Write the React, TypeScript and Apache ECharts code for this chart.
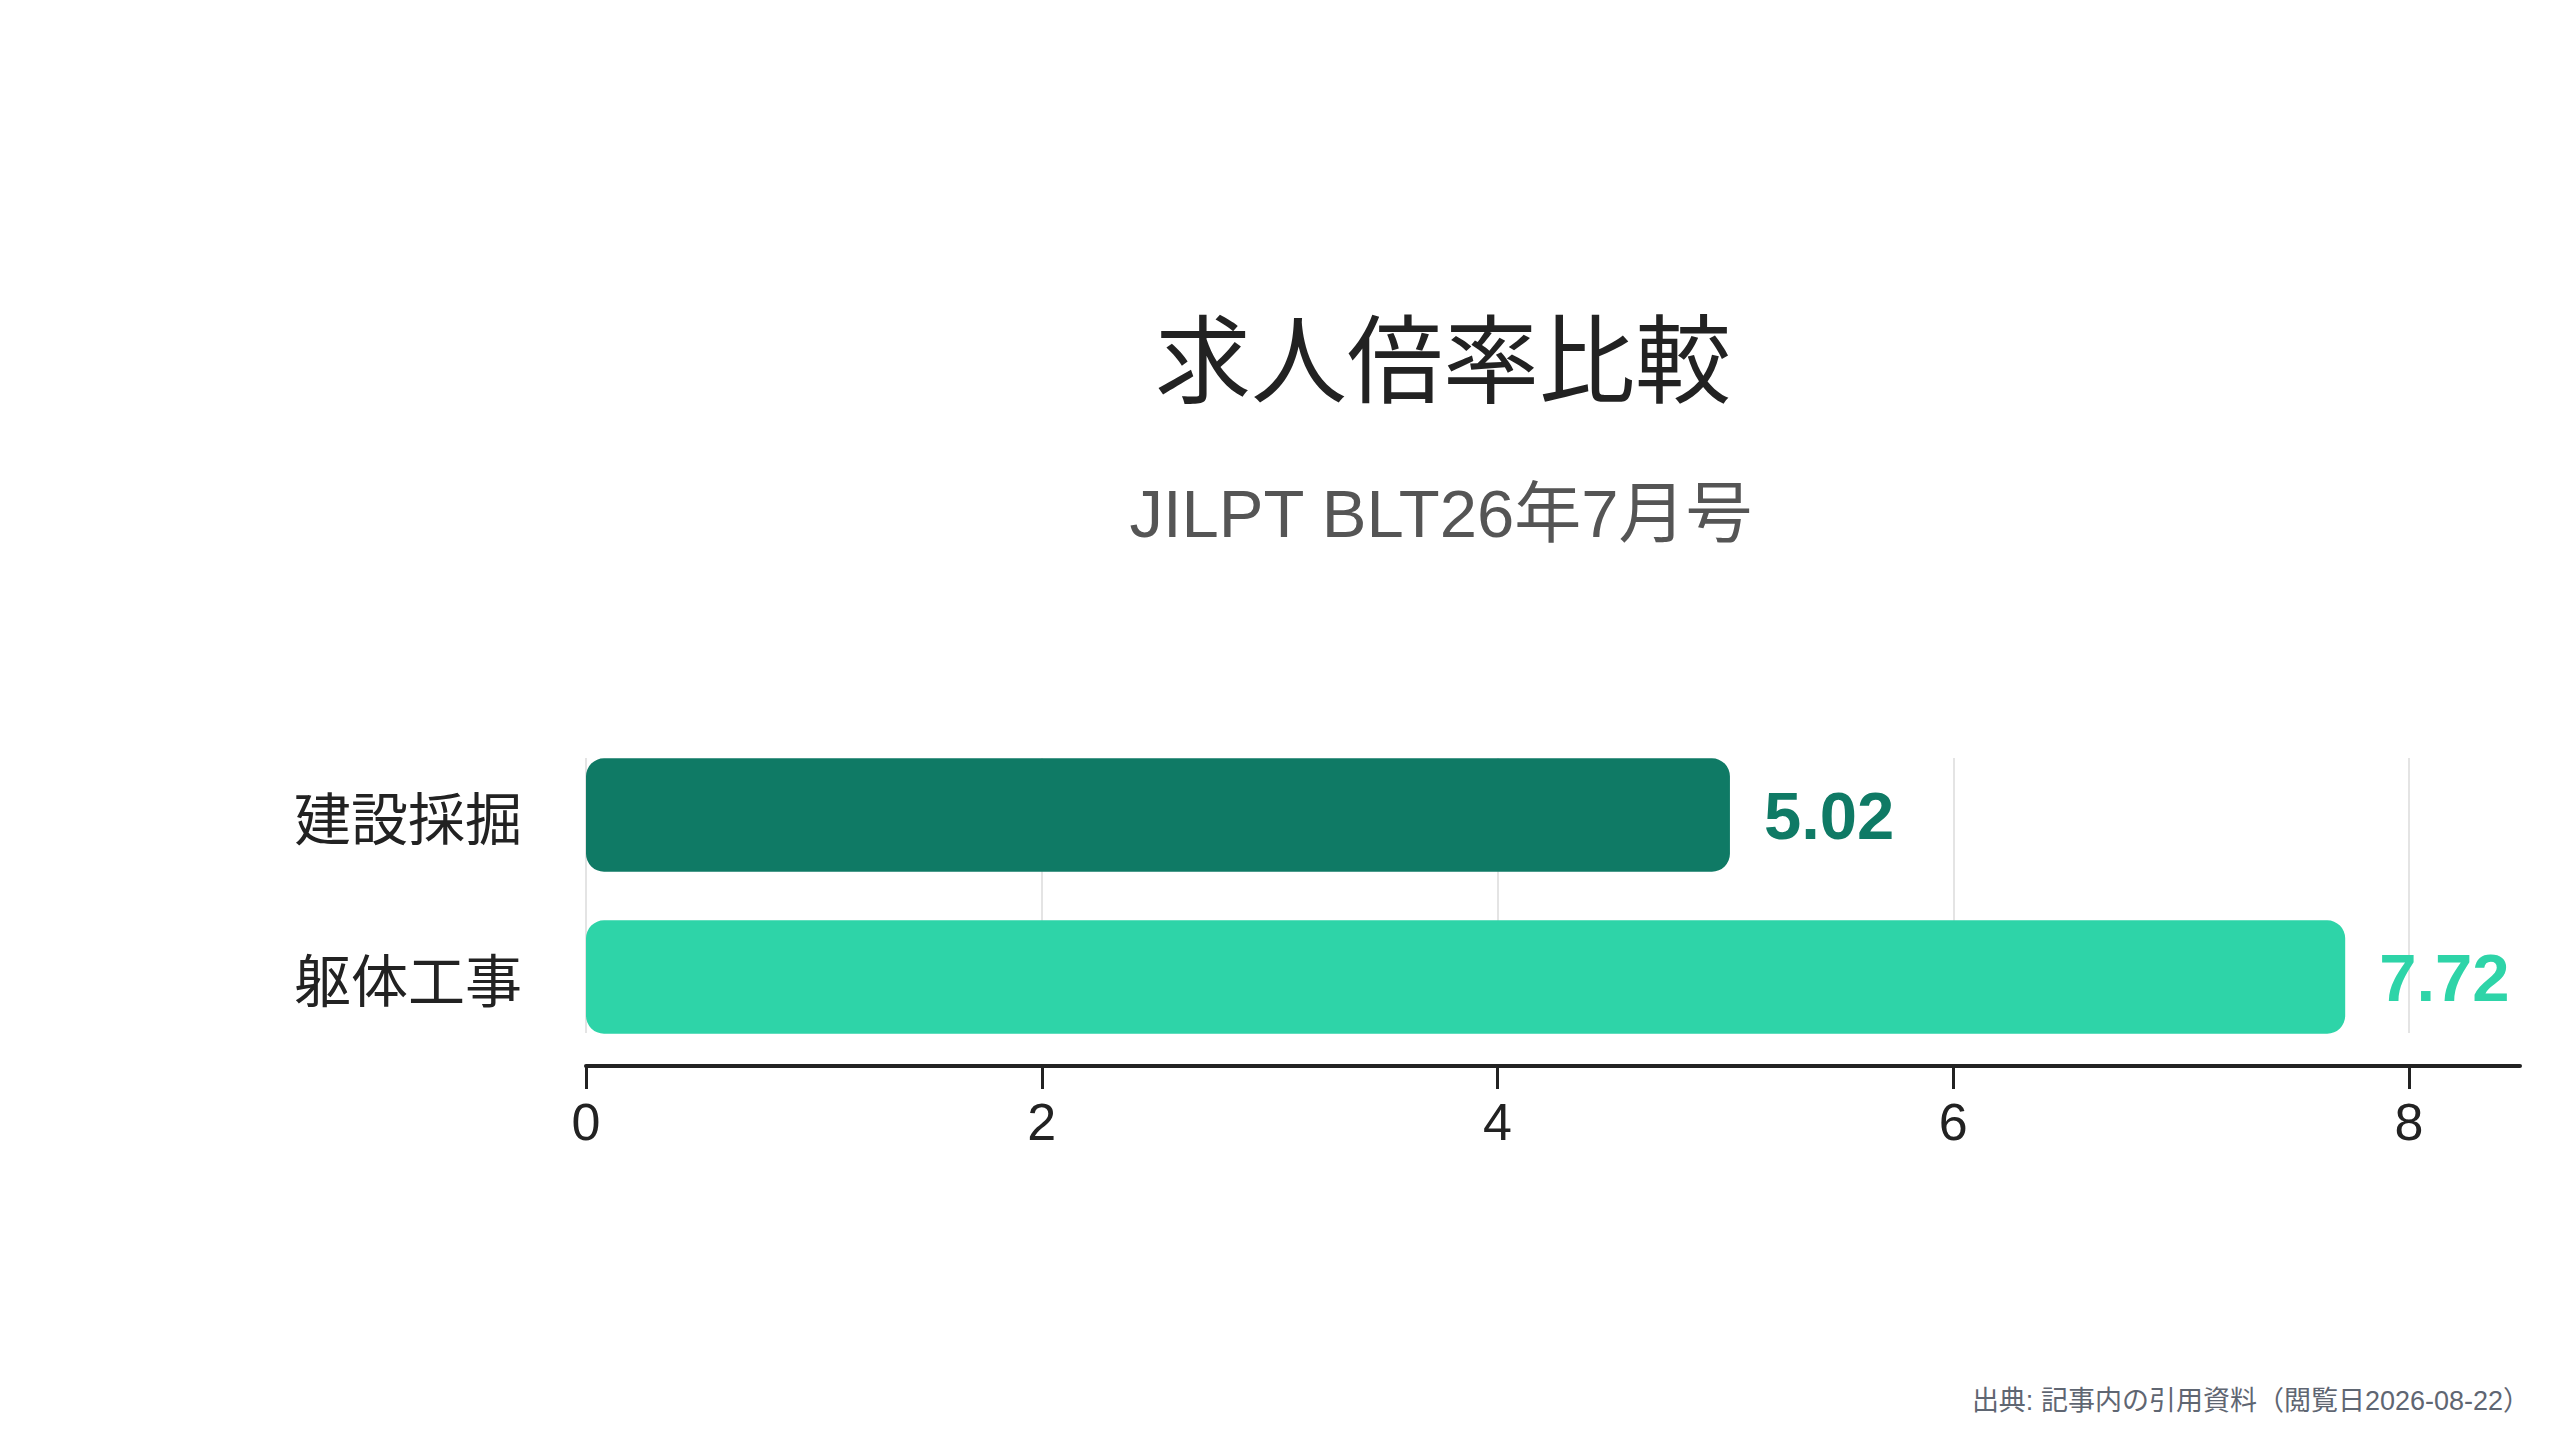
import { useEffect, useRef } from "react";
import * as echarts from "echarts";

const categories = ["建設採掘", "躯体工事"];
const values = [5.02, 7.72];
const barColors = ["#0F7A65", "#2ED4A8"];
const tickMax = 8;
const lineMax = 8.49;
const title = "求人倍率比較";
const subtitle = "JILPT BLT26年7月号";
const source = "出典: 記事内の引用資料（閲覧日2026-08-22）";

const LATIN = "'Liberation Sans', 'Noto Sans CJK JP', sans-serif";
const CJK = "'Noto Sans CJK JP', sans-serif";

export default function App() {
  const ref = useRef<HTMLDivElement>(null);

  useEffect(() => {
    document.body.style.margin = "0";
    if (!ref.current) return;
    const chart = echarts.init(ref.current, undefined, { renderer: "svg" });

    chart.setOption({
      animation: false,
      backgroundColor: "#ffffff",
      grid: [
        { left: 586, right: 151, top: 734, height: 324 },
        { left: 586, right: 151, top: 758, height: 275 },
        { left: 586, right: 40, top: 734, height: 324 },
      ],
      xAxis: [
        {
          type: "value", gridIndex: 0, min: 0, max: tickMax, interval: 2,
          offset: 8,
          axisLine: { show: false },
          axisTick: { show: true, length: 23, lineStyle: { color: "#222", width: 3 } },
          axisLabel: { color: "#222", fontSize: 52, fontFamily: LATIN, margin: 30 },
          splitLine: { show: false },
        },
        {
          type: "value", gridIndex: 1, min: 0, max: tickMax, interval: 2,
          axisLine: { show: false }, axisTick: { show: false }, axisLabel: { show: false },
          splitLine: { show: true, lineStyle: { color: "#e4e4e4", width: 2 } },
        },
        {
          type: "value", gridIndex: 2, min: 0, max: lineMax,
          offset: 8,
          axisLine: { show: true, lineStyle: { color: "#222", width: 4 } },
          axisTick: { show: false }, axisLabel: { show: false }, splitLine: { show: false },
        },
      ],
      yAxis: [
        {
          type: "category", gridIndex: 0, data: categories, inverse: true,
          axisLine: { show: false }, axisTick: { show: false },
          axisLabel: { color: "#222", fontSize: 57, fontFamily: CJK, margin: 64, padding: [0, 0, 8, 0] },
        },
        { type: "category", gridIndex: 1, data: categories, show: false },
        { type: "category", gridIndex: 2, data: categories, show: false },
      ],
      graphic: [
        {
          type: "text", x: 1443, y: 353,
          style: {
            text: title, font: `400 96px ${CJK}`, fill: "#222",
            textAlign: "center", textVerticalAlign: "middle",
          },
        },
        {
          type: "text", x: 1441, y: 513,
          style: {
            text: subtitle, font: `400 67px ${LATIN}`, fill: "#555",
            textAlign: "center", textVerticalAlign: "middle",
          },
        },
        {
          type: "text", x: 2530, y: 1401,
          style: {
            text: source, font: `400 27px ${LATIN}`, fill: "#5f6672",
            textAlign: "right", textVerticalAlign: "middle",
          },
        },
      ],
      series: [
        {
          type: "bar", xAxisIndex: 0, yAxisIndex: 0,
          barCategoryGap: "30%",
          data: values.map((v, i) => ({
            value: v,
            itemStyle: { color: barColors[i], borderRadius: 18 },
            label: { color: barColors[i] },
          })),
          label: {
            show: true, position: "right", distance: 34,
            fontSize: 67, fontWeight: "bold", fontFamily: LATIN,
            formatter: (p: { value: number }) => p.value.toFixed(2),
          },
        },
      ],
    });

    return () => chart.dispose();
  }, []);

  return <div ref={ref} style={{ width: 2560, height: 1440 }} />;
}
